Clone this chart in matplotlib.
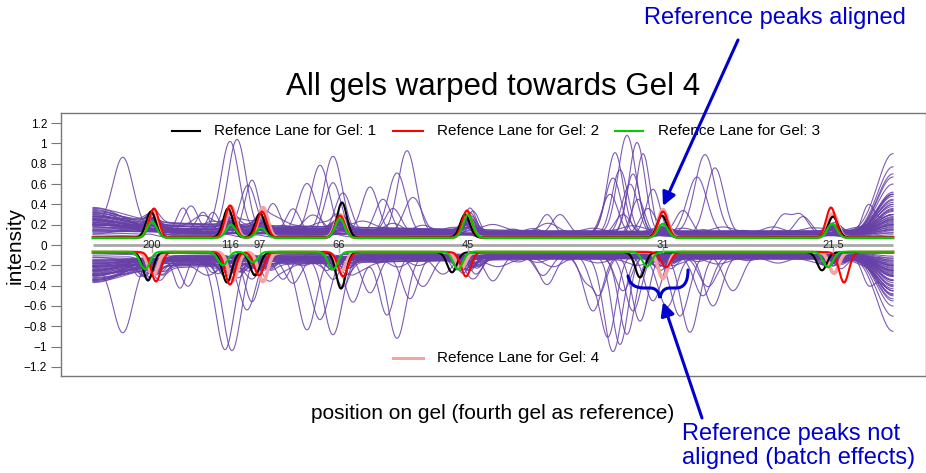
import numpy as np
import matplotlib
matplotlib.use('Agg')
import matplotlib.pyplot as plt
from matplotlib.path import Path
from matplotlib.patches import PathPatch
from matplotlib.transforms import IdentityTransform

plt.rcParams['font.family'] = ['Liberation Sans', 'DejaVu Sans']

# position along the gel (0 = top of lane, 800 = bottom)
pos = np.arange(0, 801)

# molecular weight markers
marker_labels = ['200', '116', '97', '66', '45', '31', '21.5']
marker_pos = [59, 137, 167, 246, 375, 570, 740]

# reference lanes, warped (top half): (position, peak value)
ref_top_gel1 = [(58, 0.33), (135, 0.36), (167, 0.31), (249, 0.42), (372, 0.30), (569, 0.29), (740, 0.28)]
ref_top_gel2 = [(61, 0.36), (137, 0.39), (169, 0.33), (247, 0.29), (374, 0.34), (570, 0.33), (738, 0.37)]
ref_top_gel3 = [(59, 0.23), (138, 0.20), (168, 0.17), (247, 0.26), (375, 0.30), (570, 0.21), (739, 0.21)]
ref_top_gel4 = [(60, 0.34), (138, 0.38), (170, 0.37), (247, 0.30), (374, 0.32), (570, 0.35), (740, 0.31)]

# reference lanes, unwarped (bottom half)
ref_bot_gel1 = [(55, -0.35), (134, -0.37), (162, -0.30), (248, -0.43), (359, -0.27), (547, -0.32), (729, -0.25)]
ref_bot_gel2 = [(63, -0.36), (137, -0.39), (166, -0.30), (250, -0.31), (373, -0.31), (573, -0.22), (751, -0.37)]
ref_bot_gel3 = [(52, -0.24), (130, -0.20), (160, -0.17), (240, -0.24), (365, -0.24), (554, -0.21), (735, -0.22)]
ref_bot_gel4 = [(60, -0.30), (140, -0.35), (170, -0.36), (248, -0.26), (368, -0.23), (570, -0.33), (741, -0.28)]

# purple lanes with large peaks, top half (warped)
top_pk_level = [0.10, 0.12, 0.10, 0.10, 0.11, 0.10, 0.12, 0.10, 0.10, 0.10, 0.10, 0.09, 0.10, 0.10, 0.10, 0.10]
top_pk_left = [0.20, 0.25, 0.20, 0.35, 0.30, 0.18, 0.22, 0.25, 0.20, 0.15, 0.28, 0.22, 0.32, 0.20, 0.26, 0.14]
top_pk_right = [0.20, 0.30, 0.40, 0.15, 0.60, 0.50, 0.90, 0.77, 0.67, 0.50, 0.35, 0.30, 0.45, 0.25, 0.20, 0.70]
top_pk_peaks = [
    [(30, 0.69, 10), (137, 0.12, 5), (220, 0.18, 10)],
    [(137, 0.88, 9), (250, 0.15, 6), (377, 0.15, 6)],
    [(144, 0.92, 9), (240, 0.76, 9), (530, 0.20, 8)],
    [(159, 0.52, 7), (98, 0.26, 7), (304, 0.60, 9)],
    [(155, 0.46, 8), (227, 0.66, 9), (534, 0.97, 9)],
    [(90, 0.24, 6), (214, 0.49, 9), (314, 0.82, 9), (544, 0.91, 8)],
    [(110, 0.18, 6), (277, 0.44, 8), (522, 0.79, 8), (612, 0.77, 10)],
    [(290, 0.34, 8), (550, 0.80, 7), (622, 0.66, 9)],
    [(240, 0.50, 8), (527, 0.64, 8), (604, 0.57, 10)],
    [(250, 0.40, 8), (537, 0.50, 8), (590, 0.24, 8)],
    [(120, 0.20, 6), (377, 0.26, 6), (517, 0.40, 8)],
    [(454, 0.21, 7), (545, 0.36, 7), (775, 0.25, 6)],
    [(467, 0.20, 8), (555, 0.26, 8), (710, 0.18, 8)],
    [(200, 0.24, 7), (380, 0.23, 6), (560, 0.45, 7)],
    [(180, 0.29, 7), (320, 0.36, 9), (540, 0.60, 7)],
    [(300, 0.25, 8), (520, 0.56, 8), (690, 0.18, 7), (707, 0.20, 8)],
]

# purple lanes with large dips, bottom half (unwarped)
bot_pk_level = [-0.10, -0.11, -0.10, -0.10, -0.12, -0.10, -0.10, -0.11, -0.10, -0.10, -0.10, -0.10, -0.11, -0.10, -0.10, -0.10]
bot_pk_left = [-0.20, -0.25, -0.30, -0.18, -0.34, -0.22, -0.15, -0.28, -0.20, -0.24, -0.30, -0.16, -0.26, -0.20, -0.35, -0.18]
bot_pk_right = [-0.20, -0.30, -0.40, -0.15, -0.25, -0.35, -0.20, -0.30, -0.45, -0.25, -0.85, -0.70, -0.55, -0.45, -0.60, -0.50]
bot_pk_peaks = [
    [(30, -0.69, 10), (214, -0.72, 9), (377, -0.15, 6)],
    [(132, -0.90, 9), (240, -0.76, 9), (520, -0.94, 9)],
    [(139, -0.92, 9), (304, -0.81, 9), (527, -0.88, 8)],
    [(159, -0.44, 7), (87, -0.30, 6), (597, -0.76, 9)],
    [(154, -0.50, 8), (227, -0.60, 9), (534, -0.76, 8)],
    [(260, -0.45, 8), (294, -0.58, 8), (587, -0.60, 9)],
    [(277, -0.36, 8), (317, -0.42, 8), (547, -0.65, 8)],
    [(380, -0.22, 8), (454, -0.28, 8), (574, -0.50, 9)],
    [(400, -0.25, 8), (494, -0.26, 8), (515, -0.80, 8)],
    [(190, -0.22, 7), (540, -0.55, 8), (610, -0.40, 9)],
    [(120, -0.15, 6), (505, -0.40, 8), (560, -0.45, 8)],
    [(330, -0.30, 9), (530, -0.35, 8)],
    [(200, -0.25, 8), (615, -0.30, 9)],
    [(450, -0.20, 8), (775, -0.20, 6)],
    [(95, -0.28, 7), (250, -0.30, 7), (620, -0.50, 9)],
    [(350, -0.18, 9), (500, -0.55, 9), (640, -0.35, 9)],
]

# dense band of purple lanes, top half
top_band_level = [0.080, 0.082, 0.084, 0.086, 0.088, 0.090, 0.092, 0.094, 0.096, 0.098, 0.100, 0.100, 0.102, 0.104,
                  0.106, 0.108, 0.110, 0.112, 0.114, 0.116, 0.118, 0.120, 0.122, 0.124, 0.126, 0.128, 0.130, 0.133,
                  0.136, 0.140]
top_band_drift = [0.00, 0.02, 0.05, 0.01, 0.08, 0.03, 0.00, 0.06, 0.10, 0.02, 0.04, 0.07, 0.00, 0.12, 0.03, 0.05,
                  0.09, 0.01, 0.06, 0.02, 0.08, 0.04, 0.11, 0.00, 0.05, 0.07, 0.03, 0.10, 0.06, 0.08]
top_band_left = [0.10, 0.12, 0.15, 0.18, 0.20, 0.22, 0.24, 0.26, 0.28, 0.30, 0.32, 0.34, 0.37, 0.11, 0.13, 0.16,
                 0.19, 0.21, 0.23, 0.25, 0.27, 0.29, 0.31, 0.14, 0.17, 0.20, 0.24, 0.28, 0.33, 0.36]
top_band_right = [0.10, 0.12, 0.14, 0.16, 0.18, 0.20, 0.22, 0.24, 0.26, 0.28, 0.30, 0.33, 0.36, 0.40, 0.44, 0.48,
                  0.52, 0.12, 0.15, 0.17, 0.19, 0.21, 0.23, 0.25, 0.27, 0.30, 0.34, 0.38, 0.42, 0.50]
top_band_mark = [0.2, 0.5, 0.8, 1.0, 0.3, 0.6, 0.9, 0.4, 0.7, 1.0, 0.2, 0.5, 0.8, 0.3, 0.6, 0.9, 1.1, 0.4, 0.7,
                 0.3, 0.5, 0.8, 0.6, 0.2, 0.9, 0.4, 0.7, 1.0, 0.5, 0.3]
top_band_shift = [-3, 2, 0, -1, 3, -2, 1, 0, -3, 2, 1, -1, 0, 3, -2, 2, -1, 0, 1, -3, 2, 0, -2, 1, 3, -1, 0, 2, -2, 1]
top_band_bump_pos = [100, 190, 290, 420, 470, 520, 610, 700, 110, 205, 300, 440, 560, 650, 760, 120, 230, 330,
                     455, 590, 680, 150, 270, 360, 500, 630, 720, 180, 400, 540]
top_band_bump_h = [0.08, 0.10, 0.06, 0.07, 0.05, 0.05, 0.06, 0.04, 0.12, 0.08, 0.10, 0.06, 0.05, 0.04, 0.05, 0.09,
                   0.07, 0.08, 0.10, 0.05, 0.06, 0.10, 0.07, 0.05, 0.04, 0.05, 0.04, 0.09, 0.06, 0.05]
top_mark_h = [0.12, 0.12, 0.10, 0.12, 0.17, 0.06, 0.09]

# dense band of purple lanes, bottom half
bot_band_level = [-v for v in top_band_level]
bot_band_drift = [-0.03, -0.00, -0.06, -0.02, -0.09, -0.04, -0.01, -0.07, -0.11, -0.03, -0.05, -0.08, -0.01, -0.10,
                  -0.02, -0.06, -0.08, -0.00, -0.05, -0.03, -0.09, -0.04, -0.12, -0.01, -0.04, -0.06, -0.02, -0.09,
                  -0.07, -0.07]
bot_band_left = [-0.12, -0.10, -0.16, -0.19, -0.21, -0.23, -0.25, -0.27, -0.29, -0.31, -0.33, -0.35, -0.37, -0.12,
                 -0.14, -0.17, -0.20, -0.22, -0.24, -0.26, -0.28, -0.30, -0.32, -0.15, -0.18, -0.21, -0.25, -0.29,
                 -0.34, -0.36]
bot_band_right = [-0.11, -0.13, -0.15, -0.17, -0.19, -0.21, -0.23, -0.25, -0.27, -0.29, -0.31, -0.34, -0.37, -0.41,
                  -0.45, -0.49, -0.53, -0.13, -0.16, -0.18, -0.20, -0.22, -0.24, -0.26, -0.28, -0.31, -0.35, -0.39,
                  -0.43, -0.48]
bot_band_mark = [0.3, 0.6, 0.9, 0.4, 1.0, 0.5, 0.8, 0.2, 0.7, 1.0, 0.3, 0.6, 0.9, 0.4, 0.5, 0.8, 1.1, 0.3, 0.6,
                 0.4, 0.7, 0.9, 0.5, 0.3, 0.8, 0.6, 0.4, 1.0, 0.7, 0.2]
bot_band_shift = [-10, -6, 4, 8, -12, 0, 6, -4, 10, -8, 2, 12, -2, -9, 5, 9, -5, 1, -11, 7, 3, -7, 11, -3, 0, 6,
                  -6, 8, -1, 4]
bot_band_bump_pos = [105, 195, 285, 425, 475, 515, 605, 705, 115, 210, 305, 445, 565, 655, 765, 125, 235, 325,
                     460, 585, 685, 155, 265, 365, 505, 625, 725, 185, 405, 545]
bot_band_bump_h = [-0.09, -0.10, -0.07, -0.08, -0.06, -0.05, -0.07, -0.04, -0.12, -0.09, -0.10, -0.07, -0.06,
                   -0.05, -0.05, -0.08, -0.07, -0.09, -0.10, -0.06, -0.06, -0.10, -0.08, -0.05, -0.05, -0.06,
                   -0.04, -0.09, -0.07, -0.06]
bot_mark_h = [-0.13, -0.13, -0.11, -0.12, -0.14, -0.10, -0.10]

y_ticks = [1.2, 1, 0.8, 0.6, 0.4, 0.2, 0, -0.2, -0.4, -0.6, -0.8, -1, -1.2]


def bump(c, h, w):
    return h * np.exp(-0.5 * ((pos - c) / w) ** 2)


def purple_lane(level, drift, left, right, peaks):
    y = level + drift * np.clip((450 - pos) / 450, 0, 1)
    el = np.exp(-(pos / 45.0) ** 2)
    er = np.exp(-((800 - pos) / 22.0) ** 2)
    y = (1 - el) * y + el * left
    y = (1 - er) * y + er * right
    for c, h, w in peaks:
        y = y + bump(c, h, w)
    return y


def ref_lane(base, peaks, w=4.8):
    y = np.full(pos.shape, float(base))
    for c, v in peaks:
        y = y + bump(c, v - base, w)
    return y


fig = plt.figure(figsize=(9.26, 4.73), dpi=100)
ax = fig.add_axes([61 / 926, 97 / 473, 864.5 / 926, 263 / 473])

purple = '#6640A6'
lane_kw = dict(color=purple, lw=0.8, alpha=0.85)

# dense band
for i in range(len(top_band_level)):
    peaks = [(m + top_band_shift[i], h * top_band_mark[i], 5.5) for m, h in zip(marker_pos, top_mark_h)]
    peaks.append((top_band_bump_pos[i], top_band_bump_h[i], 10))
    y = purple_lane(top_band_level[i], top_band_drift[i], top_band_left[i], top_band_right[i], peaks)
    ax.plot(pos, y, **lane_kw)
for i in range(len(bot_band_level)):
    peaks = [(m + bot_band_shift[i], h * bot_band_mark[i], 5.5) for m, h in zip(marker_pos, bot_mark_h)]
    peaks.append((bot_band_bump_pos[i], bot_band_bump_h[i], 10))
    y = purple_lane(bot_band_level[i], bot_band_drift[i], bot_band_left[i], bot_band_right[i], peaks)
    ax.plot(pos, y, **lane_kw)

# lanes with big peaks
for i in range(len(top_pk_level)):
    y = purple_lane(top_pk_level[i], 0.03, top_pk_left[i], top_pk_right[i], top_pk_peaks[i])
    ax.plot(pos, y, **lane_kw)
for i in range(len(bot_pk_level)):
    y = purple_lane(bot_pk_level[i], -0.03, bot_pk_left[i], bot_pk_right[i], bot_pk_peaks[i])
    ax.plot(pos, y, **lane_kw)

# reference lanes (green drawn last, its baseline covers the others)
ax.plot(pos, ref_lane(0.072, ref_top_gel4), color='#F4A3A3', lw=2.6)
ax.plot(pos, ref_lane(-0.07, ref_bot_gel4), color='#F4A3A3', lw=2.6)
ax.plot(pos, ref_lane(0.074, ref_top_gel1), color='black', lw=1.5)
ax.plot(pos, ref_lane(-0.072, ref_bot_gel1), color='black', lw=1.5)
ax.plot(pos, ref_lane(0.072, ref_top_gel2), color='#FF0000', lw=1.5)
ax.plot(pos, ref_lane(-0.07, ref_bot_gel2), color='#FF0000', lw=1.5)
ax.plot(pos, ref_lane(0.07, ref_top_gel3), color='#00CC00', lw=1.5)
ax.plot(pos, ref_lane(-0.066, ref_bot_gel3), color='#00CC00', lw=1.5)

# marker axis along zero
ax.plot([pos[0], pos[-1]], [0, 0], color='#A8A8A8', lw=2, solid_capstyle='butt')
for m, lab in zip(marker_pos, marker_labels):
    ax.plot([m, m], [0, -0.07], color='#A8A8A8', lw=1)
    ax.text(m, 0.005, lab, ha='center', va='center', fontsize=8, color='#222222')

# legend drawn by hand like the R output
leg_top = [(172, 200, 214, 'black', 1.5, 'Refence Lane for Gel: 1'),
           (393, 423, 437, '#FF0000', 1.5, 'Refence Lane for Gel: 2'),
           (615, 643, 658, '#00CC00', 1.5, 'Refence Lane for Gel: 3')]
for x0, x1, xt, col, lw, lab in leg_top:
    ax.plot([x0 - 93, x1 - 93], [1.12, 1.12], color=col, lw=lw)
    ax.text(xt - 93, 1.12, lab, ha='left', va='center', fontsize=11)
ax.plot([393 - 93, 423 - 93], [-1.11, -1.11], color='#F4A3A3', lw=2.2)
ax.text(437 - 93, -1.11, 'Refence Lane for Gel: 4', ha='left', va='center', fontsize=11)

ax.set_xlim(-32, 832.5)
ax.set_ylim(-1.29, 1.30)
ax.set_xticks([])
ax.set_yticks(y_ticks)
ax.set_yticklabels([('%g' % t).replace('-', '\u2212') for t in y_ticks], fontsize=8.5)
ax.tick_params(axis='y', length=7, color='#777777', pad=3)
for sp in ax.spines.values():
    sp.set_color('#777777')
    sp.set_linewidth(1)

fig.text(15 / 926, 1 - 245 / 473, 'intensity', rotation=90, ha='center', va='center', fontsize=15)
fig.text(493 / 926, 1 - 87 / 473, 'All gels warped towards Gel 4', ha='center', va='center', fontsize=22.5)
fig.text(493 / 926, 1 - 413 / 473, 'position on gel (fourth gel as reference)', ha='center', va='center', fontsize=15)

# annotations in blue
blue = '#0000CC'
fig.text(775 / 926, 1 - 18 / 473, 'Reference peaks aligned', ha='center', va='center', fontsize=17, color=blue)
fig.text(682 / 926, 1 - 446 / 473, 'Reference peaks not\naligned (batch effects)', ha='left', va='center',
         fontsize=17, color=blue, linespacing=1.15)

ax.annotate('', xy=(663, 473 - 206), xytext=(738, 473 - 40), xycoords='figure pixels',
            textcoords='figure pixels', annotation_clip=False,
            arrowprops=dict(arrowstyle='-|>', color=blue, lw=2.2, mutation_scale=20, shrinkA=0, shrinkB=0))
ax.annotate('', xy=(663, 473 - 302), xytext=(702, 473 - 418), xycoords='figure pixels',
            textcoords='figure pixels', annotation_clip=False,
            arrowprops=dict(arrowstyle='-|>', color=blue, lw=2.2, mutation_scale=20, shrinkA=0, shrinkB=0))

brace_pts = [(628, 276), (630, 286), (637, 288), (645, 288), (650, 288),
             (656, 288), (659, 292), (660, 298), (661, 292), (664, 288), (670, 288),
             (676, 288), (684, 288), (688, 282), (688, 270)]
codes = [Path.MOVETO, Path.CURVE4, Path.CURVE4, Path.CURVE4, Path.LINETO,
         Path.CURVE4, Path.CURVE4, Path.CURVE4, Path.CURVE4, Path.CURVE4, Path.CURVE4,
         Path.LINETO, Path.CURVE4, Path.CURVE4, Path.CURVE4]
verts = [(x, 473 - y) for x, y in brace_pts]
fig.add_artist(PathPatch(Path(verts, codes), transform=IdentityTransform(), fill=False,
                         edgecolor=blue, lw=2.2, capstyle='round'))

fig.savefig('out.png', dpi=100)
